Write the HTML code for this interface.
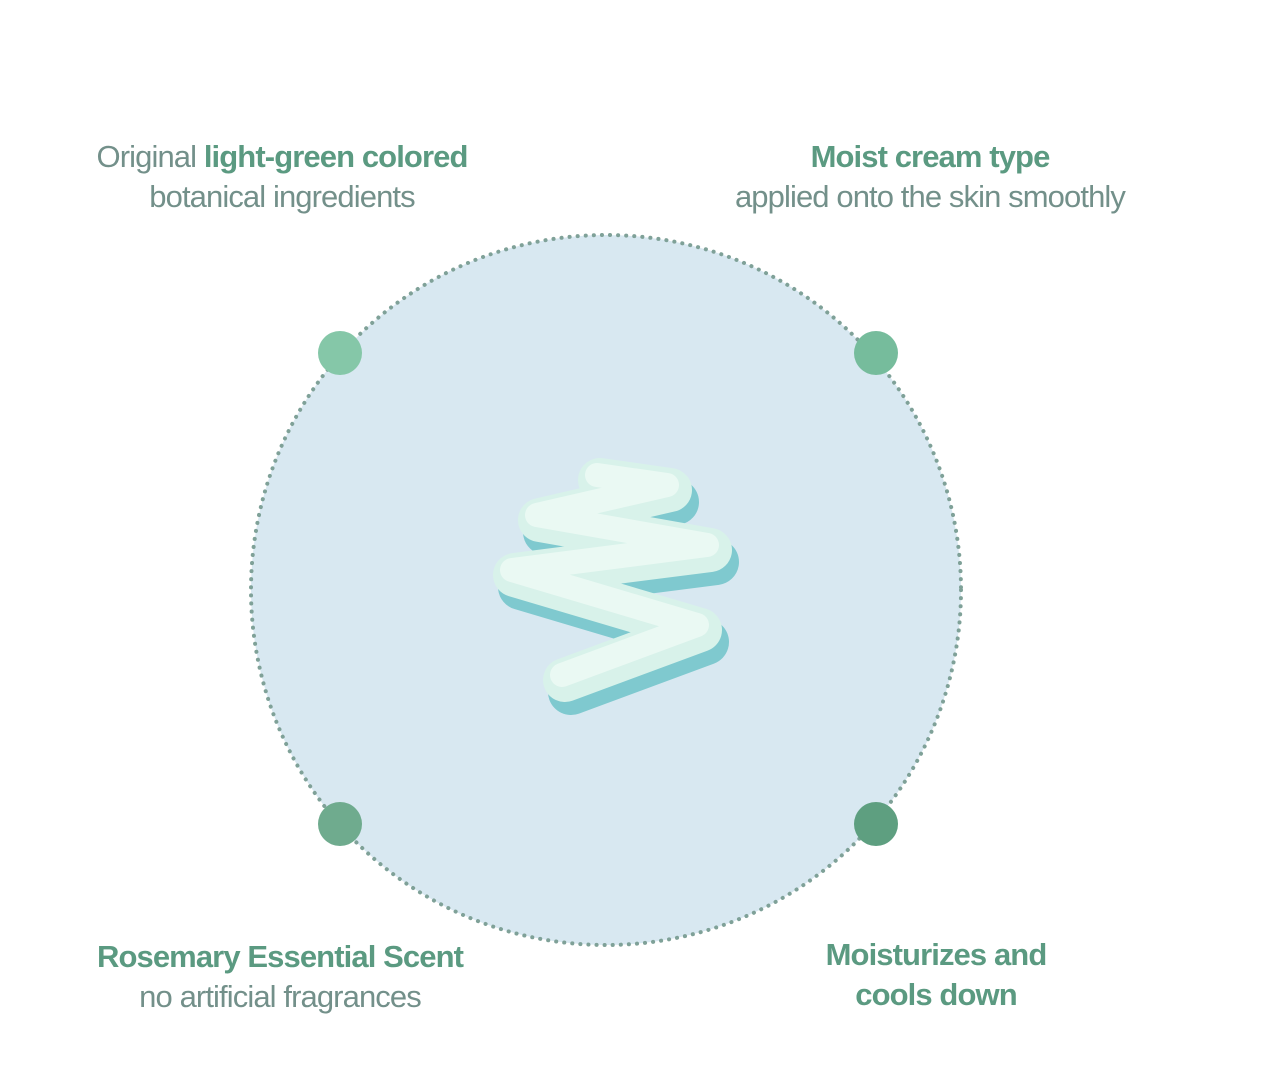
<!DOCTYPE html>
<html><head><style>
html,body{margin:0;padding:0;background:#fff;width:1264px;height:1084px;overflow:hidden}
.t{position:absolute;font-family:"Liberation Sans",sans-serif;font-size:31px;letter-spacing:-0.9px;color:#73908a;text-align:center;line-height:40px;white-space:nowrap}
.t b{color:#5b9a81;font-weight:bold}
</style></head><body>
<svg width="1264" height="1084" style="position:absolute;left:0;top:0">
<circle cx="606" cy="590" r="355" fill="#d8e8f1" stroke="#7fa198" stroke-width="4" stroke-dasharray="0.1 8" stroke-linecap="round"/>
<circle cx="340" cy="353" r="22" fill="#85c7a8"/>
<circle cx="876" cy="353" r="22" fill="#76bc9c"/>
<circle cx="340" cy="824" r="22" fill="#6fab8e"/>
<circle cx="876" cy="824" r="22" fill="#5e9f80"/>
<g stroke-linecap="round" stroke-linejoin="round" fill="none">
<path d="M600 480 L670 490 L540 520 L710 550 L515 575 L700 630 L565 680" stroke="#7fc9cf" stroke-width="46" transform="translate(6,12)"/>
<path d="M600 480 L670 490 L540 520 L710 550 L515 575 L700 630 L565 680" stroke="#d8f2ea" stroke-width="44"/>
<path d="M600 480 L670 490 L540 520 L710 550 L515 575 L700 630 L565 680" stroke="#eaf9f3" stroke-width="24" transform="translate(-3,-5)"/>
</g>
</svg>
<div class="t" style="left:82px;top:137px;width:400px"><span>Original </span><b>light-green colored</b><br>botanical ingredients</div>
<div class="t" style="left:710px;top:137px;width:440px"><b>Moist cream type</b><br>applied onto the skin smoothly</div>
<div class="t" style="left:80px;top:937px;width:400px"><b>Rosemary Essential Scent</b><br>no artificial fragrances</div>
<div class="t" style="left:736px;top:935px;width:400px"><b>Moisturizes and<br>cools down</b></div>
</body></html>
